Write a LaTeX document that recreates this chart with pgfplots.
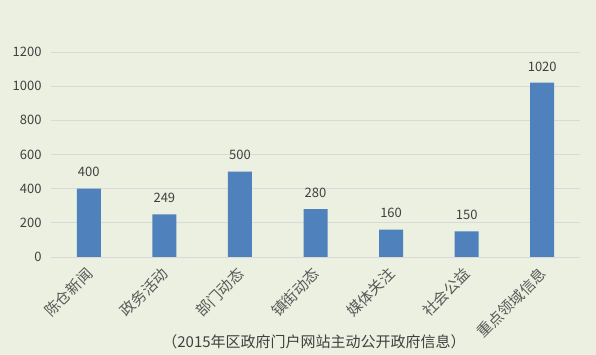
\documentclass[border=0pt]{standalone}
\usepackage{pgfplots}
\pgfplotsset{compat=1.18}
\usepackage{fontspec}
\setmainfont{Noto Sans CJK SC}
\definecolor{bg}{HTML}{EBF0E0}
\definecolor{barc}{HTML}{4F81BD}
\definecolor{gridc}{HTML}{D9D9D9}
\definecolor{txt}{HTML}{404040}
\definecolor{lab}{HTML}{595959}
\begin{document}
\begin{tikzpicture}[x=1pt,y=1pt]
\useasboundingbox (0,0) rectangle (596,355);
\fill[bg] (0,0) rectangle (596,355);
\begin{axis}[
  at={(51pt,98pt)}, anchor=south west, scale only axis,
  width=529pt, height=205pt,
  xmin=-0.5, xmax=6.5, ymin=0, ymax=1200,
  clip=false,
  axis line style={draw=none},
  tick style={draw=none},
  ymajorgrids, major grid style={gridc, line width=0.8pt},
  /pgf/number format/assume math mode=true,
  /pgf/number format/1000 sep={},
  xtick={0,...,6},
  xticklabels={陈仓新闻,政务活动,部门动态,镇街动态,媒体关注,社会公益,重点领域信息},
  xticklabel style={xshift=-4pt, yshift=-9pt, rotate=45, anchor=north east, inner sep=0pt, font=\fontsize{15}{15}\selectfont, text=lab},
  ytick={0,200,...,1200},
  yticklabel style={font=\fontsize{13}{13}\selectfont, text=txt, xshift=-6pt},
  scaled y ticks=false,
]
\addplot[ybar, bar width=24pt, bar shift=0pt, fill=barc, draw=none,
  nodes near coords,
  nodes near coords style={font=\fontsize{13}{13}\selectfont, text=txt, yshift=8pt}]
  coordinates {(0,400) (1,249) (2,500) (3,280) (4,160) (5,150) (6,1020)};
\end{axis}
\node[text=txt, font=\fontsize{15}{15}\selectfont] at (314,13) {（2015年区政府门户网站主动公开政府信息）};
\end{tikzpicture}
\end{document}
